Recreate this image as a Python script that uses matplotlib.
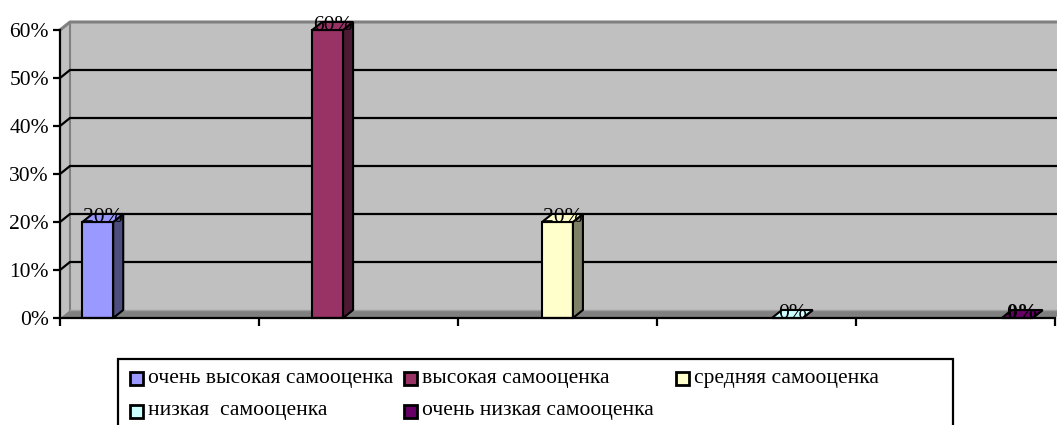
import matplotlib
matplotlib.use("Agg")
import matplotlib.pyplot as plt
from matplotlib.patches import Polygon, Rectangle
import numpy as np

# ---- data ----
series_names = ["очень высокая самооценка", "высокая самооценка", "средняя самооценка",
                "низкая  самооценка", "очень низкая самооценка"]
values = [20, 60, 20, 0, 0]           # percent
y_ticks = [0, 10, 20, 30, 40, 50, 60]
y_tick_labels = ["0%", "10%", "20%", "30%", "40%", "50%", "60%"]
front_colors = ["#9999FF", "#993366", "#FFFFCC", "#CCFFFF", "#660066"]
side_colors = ["#4D4D80", "#4D1A33", "#808066", "#668080", "#330033"]

plt.rcParams["font.family"] = ["Liberation Serif", "DejaVu Serif"]
FS = 15.5

W, H = 1057, 425
fig = plt.figure(figsize=(W / 100, H / 100), dpi=100)

n = len(values)
AXW = 995
ax = fig.add_axes([60 / W, 107 / H, AXW / W, 288 / H])
ax.set_xlim(0, n)
ax.set_ylim(0, 60)
ax.patch.set_visible(False)
for s in ["top", "right"]:
    ax.spines[s].set_visible(False)
for s in ["left", "bottom"]:
    ax.spines[s].set_linewidth(1.6)
    ax.spines[s].set_color("black")
    ax.spines[s].set_zorder(4)

ax.set_yticks(y_ticks)
ax.set_yticklabels(y_tick_labels)
ax.tick_params(axis="y", length=5, width=1.6, labelsize=FS, pad=3, direction="out")
ax.set_xticks(np.arange(n + 1))
ax.set_xticklabels([])
ax.tick_params(axis="x", length=6, width=1.6, direction="out")

# depth of the 3D effect in data units (10 px right, 8 px up)
dx = 10 * n / AXW
dy = 8 * 60 / 288
ymax = y_ticks[-1]

# walls and floor
ax.add_patch(Rectangle((dx, dy), n, ymax, fc="#C0C0C0", ec="none", clip_on=False, zorder=0.5))
ax.add_patch(Polygon([(0, 0), (dx, dy), (dx, ymax + dy), (0, ymax)], closed=True,
                     fc="#C0C0C0", ec="none", clip_on=False, zorder=0.5))
ax.add_patch(Polygon([(0, 0), (n, 0), (n + dx, dy), (dx, dy)], closed=True,
                     fc="#808080", ec="none", clip_on=False, zorder=0.6))
ax.plot([dx, dx], [dy, ymax + dy], color="#808080", lw=1.5, clip_on=False, zorder=0.7)
ax.plot([0, dx, n + dx], [ymax, ymax + dy, ymax + dy], color="#808080", lw=2.2,
        clip_on=False, zorder=0.7)
ax.plot([dx, n + dx], [dy, dy], color="#A0A0A0", lw=1.0, clip_on=False, zorder=0.7)

# gridlines on back and side wall
for v in y_ticks[1:-1]:
    ax.plot([0, dx, n + dx], [v, v + dy, v + dy], color="black", lw=1.6,
            clip_on=False, zorder=0.8)

# bars: series i sits in slot i of category i (clustered layout)
gap = 0.225
w = (1 - gap) / n
for i, v in enumerate(values):
    x0 = i + gap / 2 + i * w
    ax.add_patch(Rectangle((x0, 0), w, v, fc=front_colors[i], ec="black", lw=1.5,
                           zorder=3, clip_on=False))
    ax.add_patch(Polygon([(x0 + w, 0), (x0 + w + dx, dy), (x0 + w + dx, v + dy), (x0 + w, v)],
                         closed=True, fc=side_colors[i], ec="black", lw=1.5,
                         zorder=3, clip_on=False))
    ax.add_patch(Polygon([(x0, v), (x0 + w, v), (x0 + w + dx, v + dy), (x0 + dx, v + dy)],
                         closed=True, fc=front_colors[i], ec="black", lw=1.5,
                         zorder=3, clip_on=False))
    ax.text(x0 + w / 2 + dx / 2, v, f"{v}%", ha="center", va="baseline", fontsize=FS,
            zorder=5, fontweight="bold" if i == n - 1 else "normal", clip_on=False)

# ---- legend (drawn manually, Excel style) ----
def fpx(x, y):
    return (x / W, 1 - y / H)

box_l, box_r, box_t, box_b = 118, 953, 359, 440
fig.add_artist(Rectangle(fpx(box_l, box_b), (box_r - box_l) / W, (box_b - box_t) / H,
                         transform=fig.transFigure, fc="white", ec="black", lw=1.6,
                         clip_on=False))
col_x = [130, 404, 676]
row_y = [378, 411]
sq = 13
for i, name in enumerate(series_names):
    r, c = divmod(i, 3)
    mx, my = col_x[c], row_y[r]
    fig.add_artist(Rectangle(fpx(mx, my + sq / 2), sq / W, sq / H, transform=fig.transFigure,
                             fc=front_colors[i], ec="black", lw=2.0))
    fig.text(*fpx(mx + sq + 5, my), name, ha="left", va="center", fontsize=FS)

fig.savefig("out.png", dpi=100)
